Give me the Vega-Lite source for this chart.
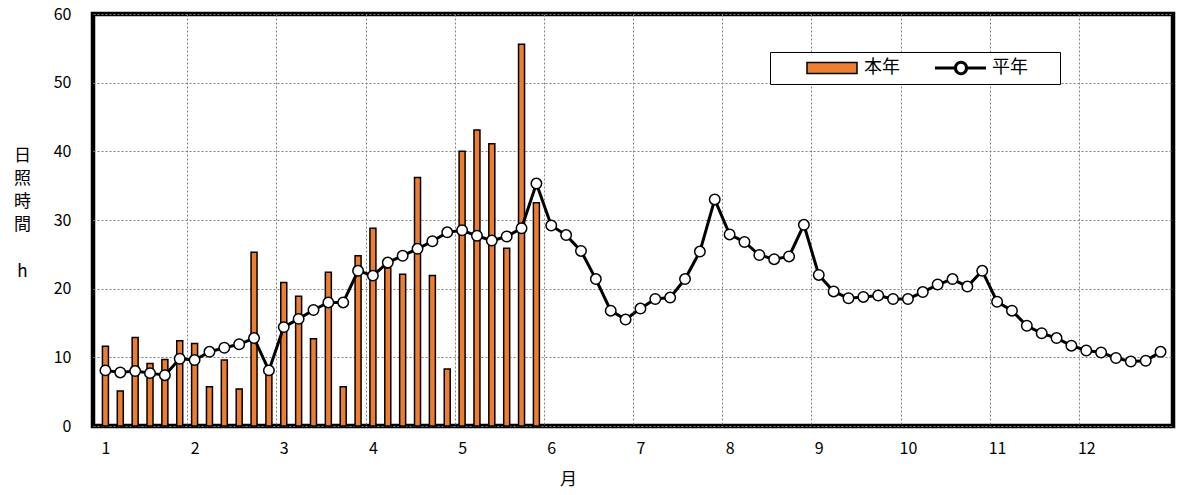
{
  "$schema": "https://vega.github.io/schema/vega-lite/v6.json",
  "width": 1080,
  "height": 412,
  "autosize": {"type": "none"},
  "padding": {"left": 93, "top": 14, "right": 4, "bottom": 69},
  "background": "white",
  "config": {
    "font": "Noto Sans CJK JP",
    "view": {"stroke": "black", "strokeWidth": 4.5},
    "axis": {
      "labelFont": "Noto Sans CJK JP",
      "titleFont": "Noto Sans CJK JP",
      "labelColor": "black",
      "titleColor": "black",
      "labelFontSize": 16,
      "titleFontSize": 17,
      "titleFontWeight": "normal",
      "domain": false,
      "ticks": false,
      "gridColor": "#808080",
      "gridDash": [2, 2],
      "gridWidth": 1,
      "gridOpacity": 1
    },
    "legend": {"labelFont": "Noto Sans CJK JP", "labelColor": "black", "labelFontSize": 18}
  },
  "data": {
    "values": [
      {"k": 1, "honen": 11.6, "heinen": 8.1},
      {"k": 2, "honen": 5.1, "heinen": 7.8},
      {"k": 3, "honen": 12.9, "heinen": 8.0},
      {"k": 4, "honen": 9.1, "heinen": 7.7},
      {"k": 5, "honen": 9.7, "heinen": 7.4},
      {"k": 6, "honen": 12.4, "heinen": 9.8},
      {"k": 7, "honen": 12.0, "heinen": 9.6},
      {"k": 8, "honen": 5.7, "heinen": 10.8},
      {"k": 9, "honen": 9.6, "heinen": 11.4},
      {"k": 10, "honen": 5.4, "heinen": 11.9},
      {"k": 11, "honen": 25.3, "heinen": 12.8},
      {"k": 12, "honen": 8.0, "heinen": 8.1},
      {"k": 13, "honen": 20.9, "heinen": 14.4},
      {"k": 14, "honen": 18.9, "heinen": 15.6},
      {"k": 15, "honen": 12.7, "heinen": 16.9},
      {"k": 16, "honen": 22.4, "heinen": 18.0},
      {"k": 17, "honen": 5.7, "heinen": 18.0},
      {"k": 18, "honen": 24.8, "heinen": 22.6},
      {"k": 19, "honen": 28.8, "heinen": 21.9},
      {"k": 20, "honen": 23.0, "heinen": 23.8},
      {"k": 21, "honen": 22.1, "heinen": 24.8},
      {"k": 22, "honen": 36.2, "heinen": 25.8},
      {"k": 23, "honen": 21.9, "heinen": 26.9},
      {"k": 24, "honen": 8.3, "heinen": 28.2},
      {"k": 25, "honen": 40.0, "heinen": 28.5},
      {"k": 26, "honen": 43.1, "heinen": 27.7},
      {"k": 27, "honen": 41.1, "heinen": 27.0},
      {"k": 28, "honen": 25.9, "heinen": 27.6},
      {"k": 29, "honen": 55.6, "heinen": 28.8},
      {"k": 30, "honen": 32.5, "heinen": 35.3},
      {"k": 31, "honen": null, "heinen": 29.2},
      {"k": 32, "honen": null, "heinen": 27.8},
      {"k": 33, "honen": null, "heinen": 25.5},
      {"k": 34, "honen": null, "heinen": 21.4},
      {"k": 35, "honen": null, "heinen": 16.8},
      {"k": 36, "honen": null, "heinen": 15.5},
      {"k": 37, "honen": null, "heinen": 17.1},
      {"k": 38, "honen": null, "heinen": 18.5},
      {"k": 39, "honen": null, "heinen": 18.7},
      {"k": 40, "honen": null, "heinen": 21.4},
      {"k": 41, "honen": null, "heinen": 25.4},
      {"k": 42, "honen": null, "heinen": 33.0},
      {"k": 43, "honen": null, "heinen": 27.9},
      {"k": 44, "honen": null, "heinen": 26.8},
      {"k": 45, "honen": null, "heinen": 24.9},
      {"k": 46, "honen": null, "heinen": 24.3},
      {"k": 47, "honen": null, "heinen": 24.7},
      {"k": 48, "honen": null, "heinen": 29.3},
      {"k": 49, "honen": null, "heinen": 22.0},
      {"k": 50, "honen": null, "heinen": 19.6},
      {"k": 51, "honen": null, "heinen": 18.6},
      {"k": 52, "honen": null, "heinen": 18.8},
      {"k": 53, "honen": null, "heinen": 19.0},
      {"k": 54, "honen": null, "heinen": 18.5},
      {"k": 55, "honen": null, "heinen": 18.5},
      {"k": 56, "honen": null, "heinen": 19.5},
      {"k": 57, "honen": null, "heinen": 20.6},
      {"k": 58, "honen": null, "heinen": 21.4},
      {"k": 59, "honen": null, "heinen": 20.3},
      {"k": 60, "honen": null, "heinen": 22.6},
      {"k": 61, "honen": null, "heinen": 18.1},
      {"k": 62, "honen": null, "heinen": 16.8},
      {"k": 63, "honen": null, "heinen": 14.6},
      {"k": 64, "honen": null, "heinen": 13.5},
      {"k": 65, "honen": null, "heinen": 12.8},
      {"k": 66, "honen": null, "heinen": 11.7},
      {"k": 67, "honen": null, "heinen": 11.0},
      {"k": 68, "honen": null, "heinen": 10.7},
      {"k": 69, "honen": null, "heinen": 9.9},
      {"k": 70, "honen": null, "heinen": 9.4},
      {"k": 71, "honen": null, "heinen": 9.5},
      {"k": 72, "honen": null, "heinen": 10.8}
    ]
  },
  "resolve": {"axis": {"x": "independent", "y": "independent"}},
  "layer": [
    {
      "transform": [{"filter": "datum.honen != null"}],
      "mark": {"type": "bar", "size": 6, "stroke": "black", "strokeWidth": 1.5},
      "encoding": {
        "x": {
          "field": "k",
          "type": "quantitative",
          "scale": {"domain": [0.5, 72.5], "nice": false, "zero": false},
          "axis": {
            "orient": "bottom",
            "values": [6.5, 12.5, 18.5, 24.5, 30.5, 36.5, 42.5, 48.5, 54.5, 60.5, 66.5],
            "labels": false,
            "grid": true,
            "title": null
          }
        },
        "y": {
          "field": "honen",
          "type": "quantitative",
          "scale": {"domain": [0, 60], "nice": false},
          "axis": {
            "orient": "left",
            "values": [0, 10, 20, 30, 40, 50, 60],
            "grid": true,
            "labelPadding": 22,
            "title": ["日", "照", "時", "間"],
            "titleAngle": 0,
            "titleAlign": "center",
            "titleBaseline": "top",
            "titleX": -71,
            "titleY": 133,
            "titleLineHeight": 23
          }
        },
        "fill": {
          "datum": "本年",
          "type": "nominal",
          "scale": {"domain": ["本年"], "range": ["#ED7D31"]},
          "legend": {
            "orient": "none",
            "legendX": 677,
            "legendY": 38,
            "zindex": 0,
            "direction": "horizontal",
            "title": " ",
            "titleOrient": "left",
            "titleFontSize": 1,
            "titlePadding": 30,
            "padding": 7,
            "strokeColor": "black",
            "fillColor": "white",
            "labelOffset": 39,
            "symbolSize": 196,
            "symbolType": "M-1.286,-0.786H5.857V0.786H-1.286ZM33.4,0",
            "symbolStrokeColor": "black",
            "symbolStrokeWidth": 1.5
          }
        }
      }
    },
    {
      "mark": {"type": "line", "strokeWidth": 3},
      "encoding": {
        "x": {
          "field": "k",
          "type": "quantitative",
          "axis": {
            "orient": "bottom",
            "values": [1, 7, 13, 19, 25, 31, 37, 43, 49, 55, 61, 67],
            "labelExpr": "'' + ((datum.value - 1) / 6 + 1)",
            "labelPadding": 14,
            "grid": false,
            "title": "月",
            "titleX": 475,
            "titleY": 53,
            "titleBaseline": "middle",
            "titleAlign": "center"
          }
        },
        "y": {
          "field": "heinen",
          "type": "quantitative",
          "axis": {
            "orient": "right",
            "labels": false,
            "grid": false,
            "title": "h",
            "titleAngle": 0,
            "titleAlign": "center",
            "titleBaseline": "middle",
            "titleX": -1151,
            "titleY": 257
          }
        },
        "stroke": {
          "datum": "平年",
          "type": "nominal",
          "scale": {"domain": ["平年"], "range": ["black"]},
          "legend": {
            "orient": "none",
            "legendX": 842,
            "legendY": 45,
            "zindex": 1,
            "direction": "horizontal",
            "title": null,
            "padding": 0,
            "labelOffset": 39,
            "symbolSize": 196,
            "symbolType": "M-1.286,0H1.643M3.214,0H6M3.214,0A0.786,0.786 0 1 1 1.643,0A0.786,0.786 0 1 1 3.214,0Z",
            "symbolFillColor": "white",
            "symbolStrokeWidth": 3
          }
        }
      }
    },
    {
      "mark": {"type": "point", "filled": true, "fill": "white", "stroke": "black", "strokeWidth": 1.5, "size": 110, "opacity": 1},
      "encoding": {
        "x": {"field": "k", "type": "quantitative", "axis": null},
        "y": {"field": "heinen", "type": "quantitative", "axis": null}
      }
    }
  ]
}
